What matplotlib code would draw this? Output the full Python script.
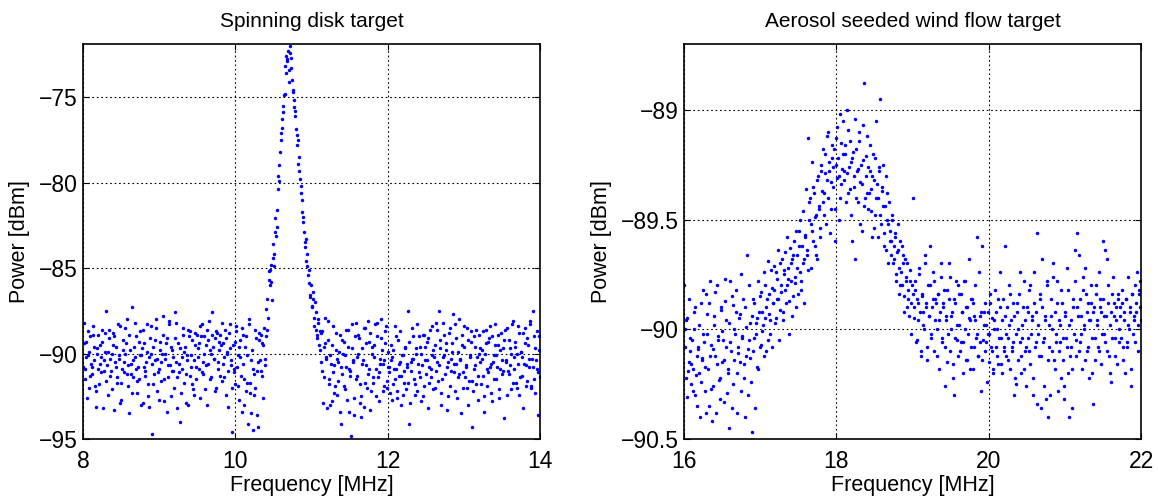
import numpy as np
import matplotlib
matplotlib.use('Agg')
from matplotlib import pyplot as plt

plt.rcParams['font.family'] = ['Liberation Sans', 'DejaVu Sans']

# spinning disk: power [dBm] per frequency bin, 8-14 MHz
disk_power = [
    -90.8, -88.2, -91.5, -89.3, -90.1, -92.0, -89.0, -90.6, -91.2, -88.9, -90.4, -93.1, -89.7, -90.9, -91.8, -89.5, -90.2, -88.6, -91.0, -89.9,
    -87.5, -90.7, -92.4, -89.1, -91.3, -90.0, -88.8, -93.3, -90.5, -89.6, -91.7, -90.3, -88.4, -92.7, -90.9, -89.2, -91.1, -90.0, -88.0, -91.9,
    -93.5, -89.8, -90.6, -87.3, -91.4, -90.2, -89.0, -92.3, -90.8, -91.5, -88.7, -90.1, -92.9, -89.4, -91.0, -90.5, -88.3, -91.8, -93.1, -90.0,
    -94.7, -89.6, -91.2, -90.4, -88.5, -92.2, -90.9, -89.3, -91.6, -90.0, -87.8, -92.8, -90.3, -89.1, -91.4, -88.1, -90.7, -92.5, -89.8, -91.0,
    -87.6, -90.5, -93.2, -89.4, -91.1, -94.0, -90.2, -88.9, -91.7, -89.6, -92.9, -90.1, -88.6, -91.3, -90.8, -89.2, -92.1, -90.4, -88.8, -91.5,
    -89.7, -90.9, -92.6, -89.0, -88.3, -91.2, -90.0, -89.5, -93.0, -90.6, -88.1, -89.8, -91.4, -87.6, -90.3, -89.1, -92.0, -88.8, -90.5, -89.3,
    -88.9, -91.6, -89.4, -90.2, -88.6, -92.4, -89.9, -91.0, -88.3, -90.7, -94.6, -89.5, -90.9, -91.8, -88.7, -90.1, -92.7, -89.2, -91.3, -88.5,
    -90.6, -93.0, -89.0, -91.7, -94.1, -88.0, -92.3, -90.4, -94.5, -91.2, -92.0, -89.1, -93.6, -90.5, -88.8, -91.0, -89.4, -92.6, -88.5, -90.3,
    -87.4, -88.6, -85.2, -86.0, -84.8, -86.9, -83.6, -84.2, -82.1, -82.6, -80.4, -79.0, -78.2, -77.1, -76.3, -75.5, -74.8, -73.6, -72.9, -72.3,
    -74.1, -72.0, -73.3, -74.7, -75.2, -76.1, -76.9, -77.8, -78.9, -78.5, -80.2, -81.0, -82.3, -82.9, -83.5, -84.6, -84.2, -85.9, -86.6, -86.0,
    -87.3, -86.8, -88.4, -87.6, -88.9, -88.2, -89.5, -88.7,
    -88.8, -91.0, -89.6, -87.9, -90.3, -93.2, -89.2, -91.5, -90.1, -92.8, -88.4, -90.7, -91.9, -89.8, -92.4, -90.5, -88.9, -94.1, -91.2, -90.0,
    -89.3, -92.1, -90.8, -88.6, -93.4, -91.0, -94.8, -89.7, -90.4, -92.6, -88.2, -91.3, -90.0, -89.1, -92.9, -93.7, -90.6, -88.5, -91.7, -89.4,
    -92.0, -88.1, -90.9, -93.3, -89.6, -91.4, -90.2, -88.3, -92.5, -89.0, -91.1, -90.6, -88.0, -89.8, -92.2, -90.4, -88.7, -91.6, -89.9, -90.8,
    -92.3, -89.5, -90.2, -91.8, -88.4, -90.9, -92.6, -89.2, -91.3, -90.5, -93.0, -90.1, -91.7, -89.7, -92.1, -90.6, -87.5, -94.1, -91.0, -90.3,
    -89.0, -91.5, -92.4, -90.0, -88.3, -91.1, -89.6, -92.8, -90.7, -88.9, -91.9, -90.4, -89.3, -93.2, -90.8, -88.6, -91.4, -90.1, -89.8, -92.0,
    -88.2, -90.5, -91.6, -87.5, -89.7, -93.0, -90.2, -88.9, -91.2, -89.4, -90.8, -92.5, -88.5, -91.0, -89.9, -87.7, -90.6, -92.2, -89.1, -91.4,
    -88.0, -90.3, -93.5, -89.5, -91.1, -88.4, -90.7, -92.0, -89.2, -91.6, -90.1, -88.7, -94.3, -90.9, -89.6, -91.8, -90.2, -92.7, -88.9, -90.5,
    -89.8, -91.3, -93.4, -90.0, -88.6, -91.9, -89.3, -90.8, -92.3, -89.0, -90.5, -91.5, -88.3, -90.1, -89.5, -92.6, -90.9, -88.8, -91.2, -89.7,
    -93.8, -90.4, -88.5, -91.0, -89.2, -90.7, -92.1, -88.1, -90.2, -89.6, -91.7, -90.0, -88.4, -92.4, -89.9, -91.3, -88.8, -90.6, -89.4, -91.9,
    -89.1, -90.8, -88.3, -92.0, -90.3, -87.5, -91.5, -89.7, -90.9, -93.6, -89.0, -91.4,
]

# same sweep, readings between the bins above
disk_power_mid = [
    -89.4, -90.9, -90.2, -92.6, -88.7, -89.9, -91.3, -90.8, -88.4, -89.6, -91.9, -92.2, -90.0, -88.9, -90.6, -91.1, -89.3, -93.2, -90.4, -88.8,
    -91.6, -89.9, -88.6, -90.3, -91.0, -92.1, -89.5, -89.0, -90.8, -91.4, -88.3, -90.1, -92.9, -91.7, -89.8, -90.5, -88.5, -89.4, -91.2, -90.7,
    -88.9, -91.2, -92.3, -90.4, -89.6, -88.2, -90.9, -91.6, -89.3, -90.1, -93.0, -89.7, -88.6, -90.8, -91.3, -89.9, -92.5, -90.2, -89.1, -88.4,
    -90.6, -91.8, -89.2, -88.0, -90.3, -91.1, -92.7, -89.8, -90.5, -88.9, -91.5, -90.0, -89.4, -93.4, -90.7, -88.3, -89.6, -91.0, -90.2, -92.0,
    -89.1, -88.2, -91.4, -90.6, -89.7, -92.3, -90.9, -88.5, -89.9, -91.2, -90.4, -93.0, -89.0, -88.7, -90.1, -91.8, -92.4, -89.5, -90.8, -88.9,
    -90.2, -89.4, -88.4, -91.1, -90.5, -89.0, -92.1, -90.7, -88.6, -89.2, -91.5, -90.0, -88.9, -89.6, -90.3, -92.2, -88.7, -90.9, -89.8, -91.3,
    -89.5, -88.2, -90.6, -91.4, -89.1, -90.0, -93.1, -88.8, -89.7, -90.4, -92.0, -91.1, -89.3, -88.4, -90.8, -91.9, -89.6, -90.2, -93.4, -88.9,
    -91.5, -89.6, -92.2, -90.1, -88.3, -91.7, -93.5, -89.8, -90.9, -92.4, -88.6, -91.0, -94.3, -89.2, -90.4, -88.9, -91.3, -89.5, -90.7, -89.0,
    -86.8, -87.9, -85.7, -85.1, -85.8, -84.4, -84.9, -82.9, -83.1, -81.6, -79.6, -79.9, -77.5, -76.8, -75.9, -74.9, -73.2, -72.6, -72.8, -73.4,
    -72.4, -72.7, -74.0, -74.6, -75.6, -75.8, -77.2, -77.5, -79.3, -79.8, -80.6, -81.7, -82.0, -83.8, -83.3, -84.9, -85.4, -85.1, -86.7, -87.2,
    -86.4, -87.9, -87.0, -88.6, -89.1, -88.0, -89.8,
    -90.5, -88.7, -92.9, -91.4, -89.4, -90.2, -88.1, -91.8, -93.0, -90.6, -89.5, -91.1, -92.3, -88.8, -90.3, -91.6, -89.9, -93.4, -90.8, -89.2,
    -91.9, -90.1, -88.6, -92.7, -89.6, -90.9, -91.3, -88.3, -90.5, -93.6, -89.0, -91.5, -90.2, -88.9, -91.8, -92.5, -89.7, -90.4, -93.1, -88.5,
    -90.7, -91.2, -89.3, -88.8, -92.2, -90.0, -91.7, -89.5, -90.9, -88.2, -91.4, -92.8, -90.3, -89.1, -90.6, -91.9, -89.4, -88.4, -92.0, -90.8,
    -91.1, -90.4, -92.7, -89.8, -90.9, -91.5, -89.0, -92.2, -90.6, -88.7, -91.3, -90.1, -92.4, -91.0, -89.6, -90.8, -91.7, -89.3, -92.9, -90.5,
    -88.5, -90.3, -91.8, -89.7, -92.2, -90.6, -89.0, -91.4, -90.0, -92.5, -88.9, -89.6, -91.2, -90.4, -89.1, -91.7, -90.9, -88.4, -92.1, -90.2,
    -89.5, -91.0, -88.6, -90.7, -89.2, -92.3, -91.5, -88.2, -90.1, -89.8, -93.3, -90.5, -88.8, -91.9, -90.3, -89.4, -91.1, -88.3, -90.6, -92.6,
    -89.9, -91.2, -90.4, -88.9, -92.0, -89.6, -91.4, -90.8, -88.5, -93.0, -90.2, -89.3, -91.6, -92.2, -89.0, -90.7, -88.6, -91.3, -90.0, -89.7,
    -91.8, -90.3, -88.7, -92.5, -89.4, -90.9, -91.1, -89.1, -88.4, -90.6, -92.8, -90.1, -89.5, -91.5, -90.8, -88.9, -92.1, -89.8, -90.4, -91.0,
    -89.2, -88.6, -90.5, -92.4, -91.2, -89.7, -90.0, -88.3, -91.7, -90.9, -89.3, -92.0, -90.6, -88.8, -91.4, -89.9, -90.2, -93.2, -88.5, -90.7,
    -91.6, -89.5, -90.3, -88.1, -91.9, -90.8, -89.0, -92.3, -90.4, -88.7, -91.1, -89.8,
]

# aerosol wind flow: power [dBm] per frequency bin, 16-22 MHz
wind_power = [
    -89.80, -90.00, -90.22, -89.95, -90.15, -90.10, -90.25, -90.05, -90.18, -89.92, -90.30, -90.12, -90.08, -90.20, -90.40, -89.88, -90.14, -90.02, -90.28, -89.84,
    -89.93, -90.18, -90.35, -89.78, -90.07, -90.26, -89.98, -90.12, -90.38, -89.80, -90.03, -90.22, -89.90, -90.15, -90.05, -90.33, -89.87, -89.96, -90.20, -90.45,
    -89.78, -90.10, -89.85, -90.25, -90.00, -89.92, -90.38, -90.08, -89.95, -90.15, -89.75, -90.03, -90.22, -89.90, -90.12, -89.66, -90.30, -90.05, -89.97, -90.47,
    -90.10, -89.88, -90.36, -90.02, -89.95, -90.18, -89.85, -90.07, -89.92, -89.98, -90.12, -89.80, -89.90, -90.05, -89.84, -89.96, -89.73, -90.08, -89.88, -89.82,
    -89.95, -89.77, -89.86, -90.05, -89.70, -89.83, -89.92, -89.75, -89.65, -89.88, -89.80, -89.72, -90.02, -89.78, -89.68, -89.85, -89.60, -89.76, -89.90, -89.66,
    -89.55, -89.74, -89.82, -89.62, -89.70, -89.88, -89.58, -89.66, -89.13, -89.50, -89.40, -89.72, -89.55, -89.35, -89.62, -89.48, -89.68, -89.30, -89.45, -89.58,
    -89.25, -89.42, -89.38, -89.20, -89.52, -89.32, -89.10, -89.28, -89.45, -89.22, -89.35, -89.18, -89.60, -89.25, -89.08, -89.30, -89.40, -89.15, -89.27, -89.05,
    -89.32, -89.20, -89.00, -89.38, -89.26, -89.14, -89.48, -89.22, -89.35, -89.68, -89.18, -89.28, -89.42, -89.10, -89.33, -89.55, -89.23, -88.88, -89.40, -89.30,
    -89.12, -89.45, -89.28, -89.36, -89.58, -89.20, -89.32, -89.48, -89.05, -89.40, -89.26, -88.95, -89.52, -89.35, -89.44, -89.62, -89.30, -89.50, -89.70, -89.42,
    -89.55, -89.60, -89.48, -89.68, -89.58, -89.75, -89.65, -89.52, -89.72, -89.80, -89.62, -89.70, -89.85, -89.68, -89.78, -89.90, -89.82, -89.73, -89.88, -89.80,
    -89.40, -89.95, -89.82, -90.05, -89.88, -89.75, -89.92, -90.10, -89.85, -89.98, -89.70, -89.90, -90.08, -89.80, -89.94, -89.62, -90.02, -89.86, -89.78, -89.96,
    -89.88, -90.12, -89.84, -89.96, -89.70, -90.04, -89.90, -89.82, -90.08, -89.94, -90.15, -89.86, -89.76, -90.00, -89.92, -90.22, -90.30, -89.88, -90.05, -89.80,
    -89.98, -90.10, -89.84, -89.92, -90.06, -89.78, -90.14, -89.90, -90.02, -89.95, -90.18, -89.86, -89.88, -90.08, -89.96, -90.04, -89.58, -90.12, -89.94, -90.28,
    -89.62, -90.05, -89.92, -90.10, -89.98, -90.02, -90.15, -89.88, -90.08, -89.95, -90.20, -90.00, -89.92, -90.12, -89.86, -90.04, -89.74, -90.16, -89.96, -90.08,
    -89.62, -90.02, -89.90, -90.14, -89.98, -89.84, -90.10, -90.06, -89.94, -90.22, -90.25, -89.88, -90.00, -89.74, -90.12, -90.04, -89.90, -90.18, -89.96, -90.08,
    -89.92, -90.10, -89.80, -90.02, -89.94, -90.30, -89.88, -90.06, -89.56, -89.98, -90.12, -89.84, -90.36, -89.90, -90.04, -89.96, -90.32, -89.80, -90.40, -90.08,
    -89.86, -90.00, -89.70, -90.14, -89.92, -90.06, -89.78, -90.10, -89.98, -90.22, -89.88, -90.04, -90.26, -89.94, -90.08, -89.82, -90.40, -90.12, -89.96, -90.18,
    -89.90, -89.64, -90.05, -89.56, -89.94, -90.10, -89.86, -90.02, -89.76, -89.98, -90.14, -89.84, -89.92, -90.08, -89.96, -89.88, -90.20, -90.34, -89.90, -90.04,
    -89.80, -89.96, -90.10, -89.86, -89.92, -90.02, -89.60, -89.94, -90.06, -89.68, -89.88, -90.12, -89.98, -90.24, -89.84, -89.94, -90.04, -89.90, -90.16, -89.86,
    -90.00, -89.94, -89.88, -90.08, -89.92, -90.20, -89.86, -90.06, -89.98, -89.90, -90.26, -89.84, -90.02, -89.96, -89.80, -89.92, -90.10, -89.82, -89.78, -89.96,
]

wind_power_mid = [
    -90.08, -89.96, -90.31, -90.19, -89.86, -90.04, -90.16, -90.28, -90.00, -89.90, -90.21, -90.35, -90.09, -89.98, -90.24, -90.13, -89.82, -90.06, -90.17, -90.38,
    -90.02, -89.88, -90.12, -90.27, -90.42, -90.09, -89.94, -89.83, -90.16, -90.05, -90.23, -90.32, -89.91, -90.01, -90.14, -89.77, -90.08, -90.29, -90.18, -89.97,
    -90.06, -90.36, -89.89, -90.14, -90.02, -89.82, -90.20, -90.11, -89.93, -90.28, -90.04, -89.86, -90.16, -90.40, -89.99, -90.09, -89.80, -90.13, -90.24, -89.94,
    -89.86, -90.04, -89.97, -90.17, -89.78, -89.92, -90.08, -89.83, -90.01, -89.74, -89.95, -90.10, -89.86, -89.69, -89.93, -90.02, -89.81, -89.88, -89.71, -89.97,
    -89.74, -89.86, -89.64, -89.91, -89.80, -89.68, -89.96, -89.73, -89.82, -89.58, -89.77, -89.87, -89.63, -89.70, -89.94, -89.66, -89.79, -89.55, -89.72, -89.84,
    -89.62, -89.50, -89.78, -89.46, -89.68, -89.57, -89.36, -89.64, -89.73, -89.42, -89.52, -89.24, -89.60, -89.38, -89.49, -89.66, -89.32, -89.44, -89.54, -89.28,
    -89.37, -89.18, -89.48, -89.29, -89.12, -89.40, -89.24, -89.56, -89.33, -89.16, -89.26, -89.45, -89.13, -89.31, -89.22, -89.50, -89.02, -89.34, -89.20, -89.28,
    -89.16, -89.42, -89.29, -89.09, -89.36, -89.24, -89.60, -89.19, -89.30, -89.04, -89.40, -89.27, -89.14, -89.52, -89.25, -89.34, -89.07, -89.44, -89.21, -89.38,
    -89.26, -89.38, -89.16, -89.46, -89.30, -89.54, -89.22, -89.40, -89.34, -89.58, -89.28, -89.48, -89.37, -89.25, -89.56, -89.44, -89.64, -89.38, -89.52, -89.60,
    -89.66, -89.50, -89.70, -89.62, -89.56, -89.78, -89.64, -89.84, -89.60, -89.74, -89.80, -89.66, -89.92, -89.76, -89.70, -89.86, -89.94, -89.78, -90.02, -89.84,
    -89.90, -89.78, -90.06, -89.86, -89.96, -89.72, -90.12, -89.84, -89.92, -90.00, -89.66, -89.88, -90.14, -89.94, -89.80, -90.04, -89.90, -89.74, -90.10, -89.86,
    -90.00, -89.84, -90.18, -89.92, -89.76, -90.06, -89.88, -90.26, -89.96, -89.82, -90.02, -89.70, -90.10, -89.94, -90.16, -89.86, -90.04, -89.78, -89.98, -90.12,
    -89.84, -90.06, -89.92, -90.20, -89.78, -90.00, -89.90, -90.14, -89.68, -89.96, -90.08, -89.86, -90.18, -89.94, -89.80, -90.02, -90.12, -89.74, -90.06, -89.92,
    -90.14, -89.98, -89.88, -90.06, -90.24, -89.92, -90.02, -89.84, -90.10, -90.18, -89.96, -89.82, -90.08, -90.00, -90.16, -89.90, -90.04, -90.20, -89.86, -90.10,
    -89.94, -90.12, -90.04, -89.80, -90.18, -89.96, -90.08, -89.88, -90.30, -90.02, -89.92, -90.14, -89.84, -90.06, -90.20, -89.98, -89.78, -90.10, -90.26, -89.90,
    -90.04, -89.82, -90.16, -89.96, -90.22, -89.74, -90.08, -89.92, -90.34, -90.02, -89.86, -90.12, -89.68, -90.06, -90.26, -89.94, -89.78, -90.14, -89.98, -90.30,
    -89.94, -90.10, -89.76, -90.18, -90.02, -89.88, -90.28, -89.96, -90.06, -89.82, -90.14, -90.32, -89.92, -90.04, -89.72, -90.20, -89.98, -90.08, -90.36, -89.86,
    -90.02, -89.78, -90.12, -89.90, -89.66, -90.06, -89.94, -90.18, -89.82, -90.00, -89.72, -90.10, -89.88, -90.22, -89.96, -89.80, -90.04, -89.92, -90.14, -89.84,
    -89.98, -90.08, -89.74, -89.90, -90.16, -89.86, -90.02, -89.64, -89.94, -90.10, -89.80, -90.20, -89.92, -90.04, -89.76, -89.88, -90.12, -89.96, -89.84, -90.06,
    -89.90, -90.04, -89.82, -90.14, -89.96, -89.86, -90.08, -89.76, -90.00, -89.92, -90.18, -89.84, -89.94, -90.06, -89.88, -89.74, -89.98, -89.84, -89.90,
]

disk_freq = np.linspace(8, 14, len(disk_power))
disk_freq_mid = (disk_freq[:-1] + disk_freq[1:]) / 2
wind_freq = np.linspace(16, 22, len(wind_power))
wind_freq_mid = (wind_freq[:-1] + wind_freq[1:]) / 2

fig = plt.figure(figsize=(11.58, 4.96), dpi=100)
ax1 = fig.add_axes([83 / 1158, 57 / 496, 457 / 1158, 395 / 496])
ax2 = fig.add_axes([684 / 1158, 57 / 496, 457 / 1158, 395 / 496])

dot = dict(linestyle='none', marker='o', color='blue', markersize=2.5, markeredgewidth=0)
ax1.plot(disk_freq, disk_power, **dot)
ax1.plot(disk_freq_mid, disk_power_mid, **dot)
ax2.plot(wind_freq, wind_power, **dot)
ax2.plot(wind_freq_mid, wind_power_mid, **dot)

ax1.set_xlim(8, 14)
ax1.set_ylim(-95, -71.9)
ax1.set_xticks([8, 10, 12, 14])
ax1.set_yticks([-95, -90, -85, -80, -75])
ax1.set_yticklabels(['\u221295', '\u221290', '\u221285', '\u221280', '\u221275'])
ax1.set_title('Spinning disk target', fontsize=15, pad=12)

ax2.set_xlim(16, 22)
ax2.set_ylim(-90.5, -88.7)
ax2.set_xticks([16, 18, 20, 22])
ax2.set_yticks([-90.5, -90, -89.5, -89])
ax2.set_yticklabels(['\u221290.5', '\u221290', '\u221289.5', '\u221289'])
ax2.set_title('Aerosol seeded wind flow target', fontsize=15, pad=12)

for ax in (ax1, ax2):
    ax.set_xlabel('Frequency [MHz]', fontsize=15.5, labelpad=1)
    ax.set_ylabel('Power [dBm]', fontsize=15.5, labelpad=6)
    ax.grid(True, color='black', linestyle=(0, (1.5, 2.5)), linewidth=0.8)
    ax.tick_params(direction='in', length=4, width=0.8, labelsize=16.5,
                   top=True, right=True)
    ax.tick_params(axis='x', pad=8)
    ax.tick_params(axis='y', pad=4)
    for s in ax.spines.values():
        s.set_linewidth(1.2)

fig.savefig('out.png', dpi=100)
